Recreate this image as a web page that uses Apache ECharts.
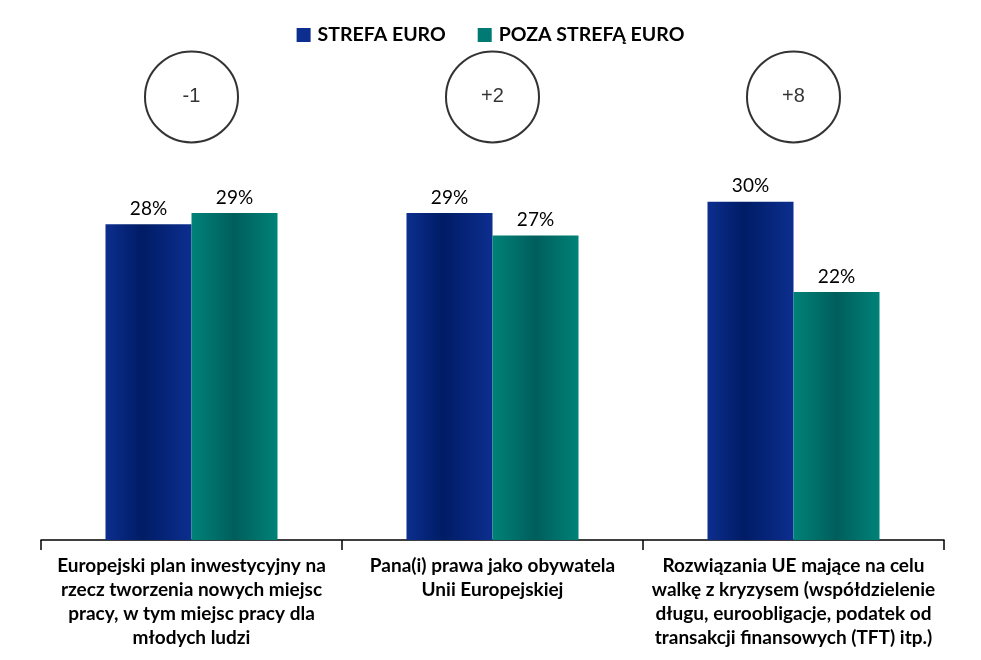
<!DOCTYPE html>
<html>
<head>
<meta charset="utf-8">
<script src="https://cdn.jsdelivr.net/npm/echarts@6/dist/echarts.min.js"></script>
<style>html,body{margin:0;padding:0;background:#fff}#c{width:981px;height:660px}</style>
</head>
<body>
<div id="c"></div>
<script>
const categories = [
  'Europejski plan inwestycyjny na\nrzecz tworzenia nowych miejsc\npracy, w tym miejsc pracy dla\nmłodych ludzi',
  'Pana(i) prawa jako obywatela\nUnii Europejskiej',
  'Rozwiązania UE mające na celu\nwalkę z kryzysem (współdzielenie\ndługu, euroobligacje, podatek od\ntransakcji finansowych (TFT) itp.)'
];
const seriesNames = ['STREFA EURO', 'POZA STREFĄ EURO'];
const strefaEuro = [28, 29, 30];
const pozaStrefa = [29, 27, 22];
const differences = ['-1', '+2', '+8'];

const FONT = 'Lato, "Open Sans", sans-serif';
const CIRCLE_LEVEL = 39.3;

const blueGrad = new echarts.graphic.LinearGradient(0, 0, 1, 0, [
  {offset: 0, color: '#0c2e8e'},
  {offset: 0.42, color: '#001c66'},
  {offset: 1, color: '#0c2e8e'}
]);
const tealGrad = new echarts.graphic.LinearGradient(0, 0, 1, 0, [
  {offset: 0, color: '#008278'},
  {offset: 0.5, color: '#005e5c'},
  {offset: 1, color: '#008278'}
]);

const chart = echarts.init(document.getElementById('c'));
chart.setOption({
  animation: false,
  legend: {
    top: 20,
    left: 'center',
    itemWidth: 14,
    itemHeight: 14,
    itemGap: 32,
    icon: 'rect',
    textStyle: {fontFamily: FONT, fontWeight: 'bold', fontSize: 19.5, color: '#000', padding: [0, 0, 0, 2]},
    data: [
      {name: seriesNames[0], itemStyle: {color: '#0c2e8e'}},
      {name: seriesNames[1], itemStyle: {color: '#007a72'}}
    ]
  },
  grid: {left: 41, right: 37, top: 89, bottom: 120},
  xAxis: {
    type: 'category',
    data: categories,
    axisLine: {lineStyle: {color: '#000', width: 1.5}},
    axisTick: {show: true, length: 10, lineStyle: {color: '#000', width: 1.5}},
    axisLabel: {
      interval: 0, margin: 14,
      fontFamily: FONT, fontWeight: 'bold', fontSize: 19, lineHeight: 24, color: '#000'
    }
  },
  yAxis: {type: 'value', min: 0, max: 40, show: false, splitLine: {show: false}},
  series: [
    {
      name: seriesNames[0], type: 'bar', data: strefaEuro,
      barWidth: 86, barGap: '0%',
      itemStyle: {color: blueGrad},
      label: {show: true, position: 'top', distance: 6, formatter: '{c}%',
        fontFamily: FONT, fontSize: 19, color: '#000'}
    },
    {
      name: seriesNames[1], type: 'bar', data: pozaStrefa,
      barWidth: 86,
      itemStyle: {color: tealGrad},
      label: {show: true, position: 'top', distance: 6, formatter: '{c}%',
        fontFamily: FONT, fontSize: 19, color: '#000'}
    },
    {
      type: 'scatter',
      data: differences.map(d => ({value: CIRCLE_LEVEL, label: {formatter: d}})),
      symbol: 'circle', symbolSize: [93, 91],
      itemStyle: {color: '#fff', borderColor: '#000', borderWidth: 2},
      label: {show: true, position: 'inside', fontFamily: 'Arial, "Liberation Sans", sans-serif',
        fontSize: 20, color: '#000'},
      silent: true, z: 5
    }
  ]
});
</script>
</body>
</html>
